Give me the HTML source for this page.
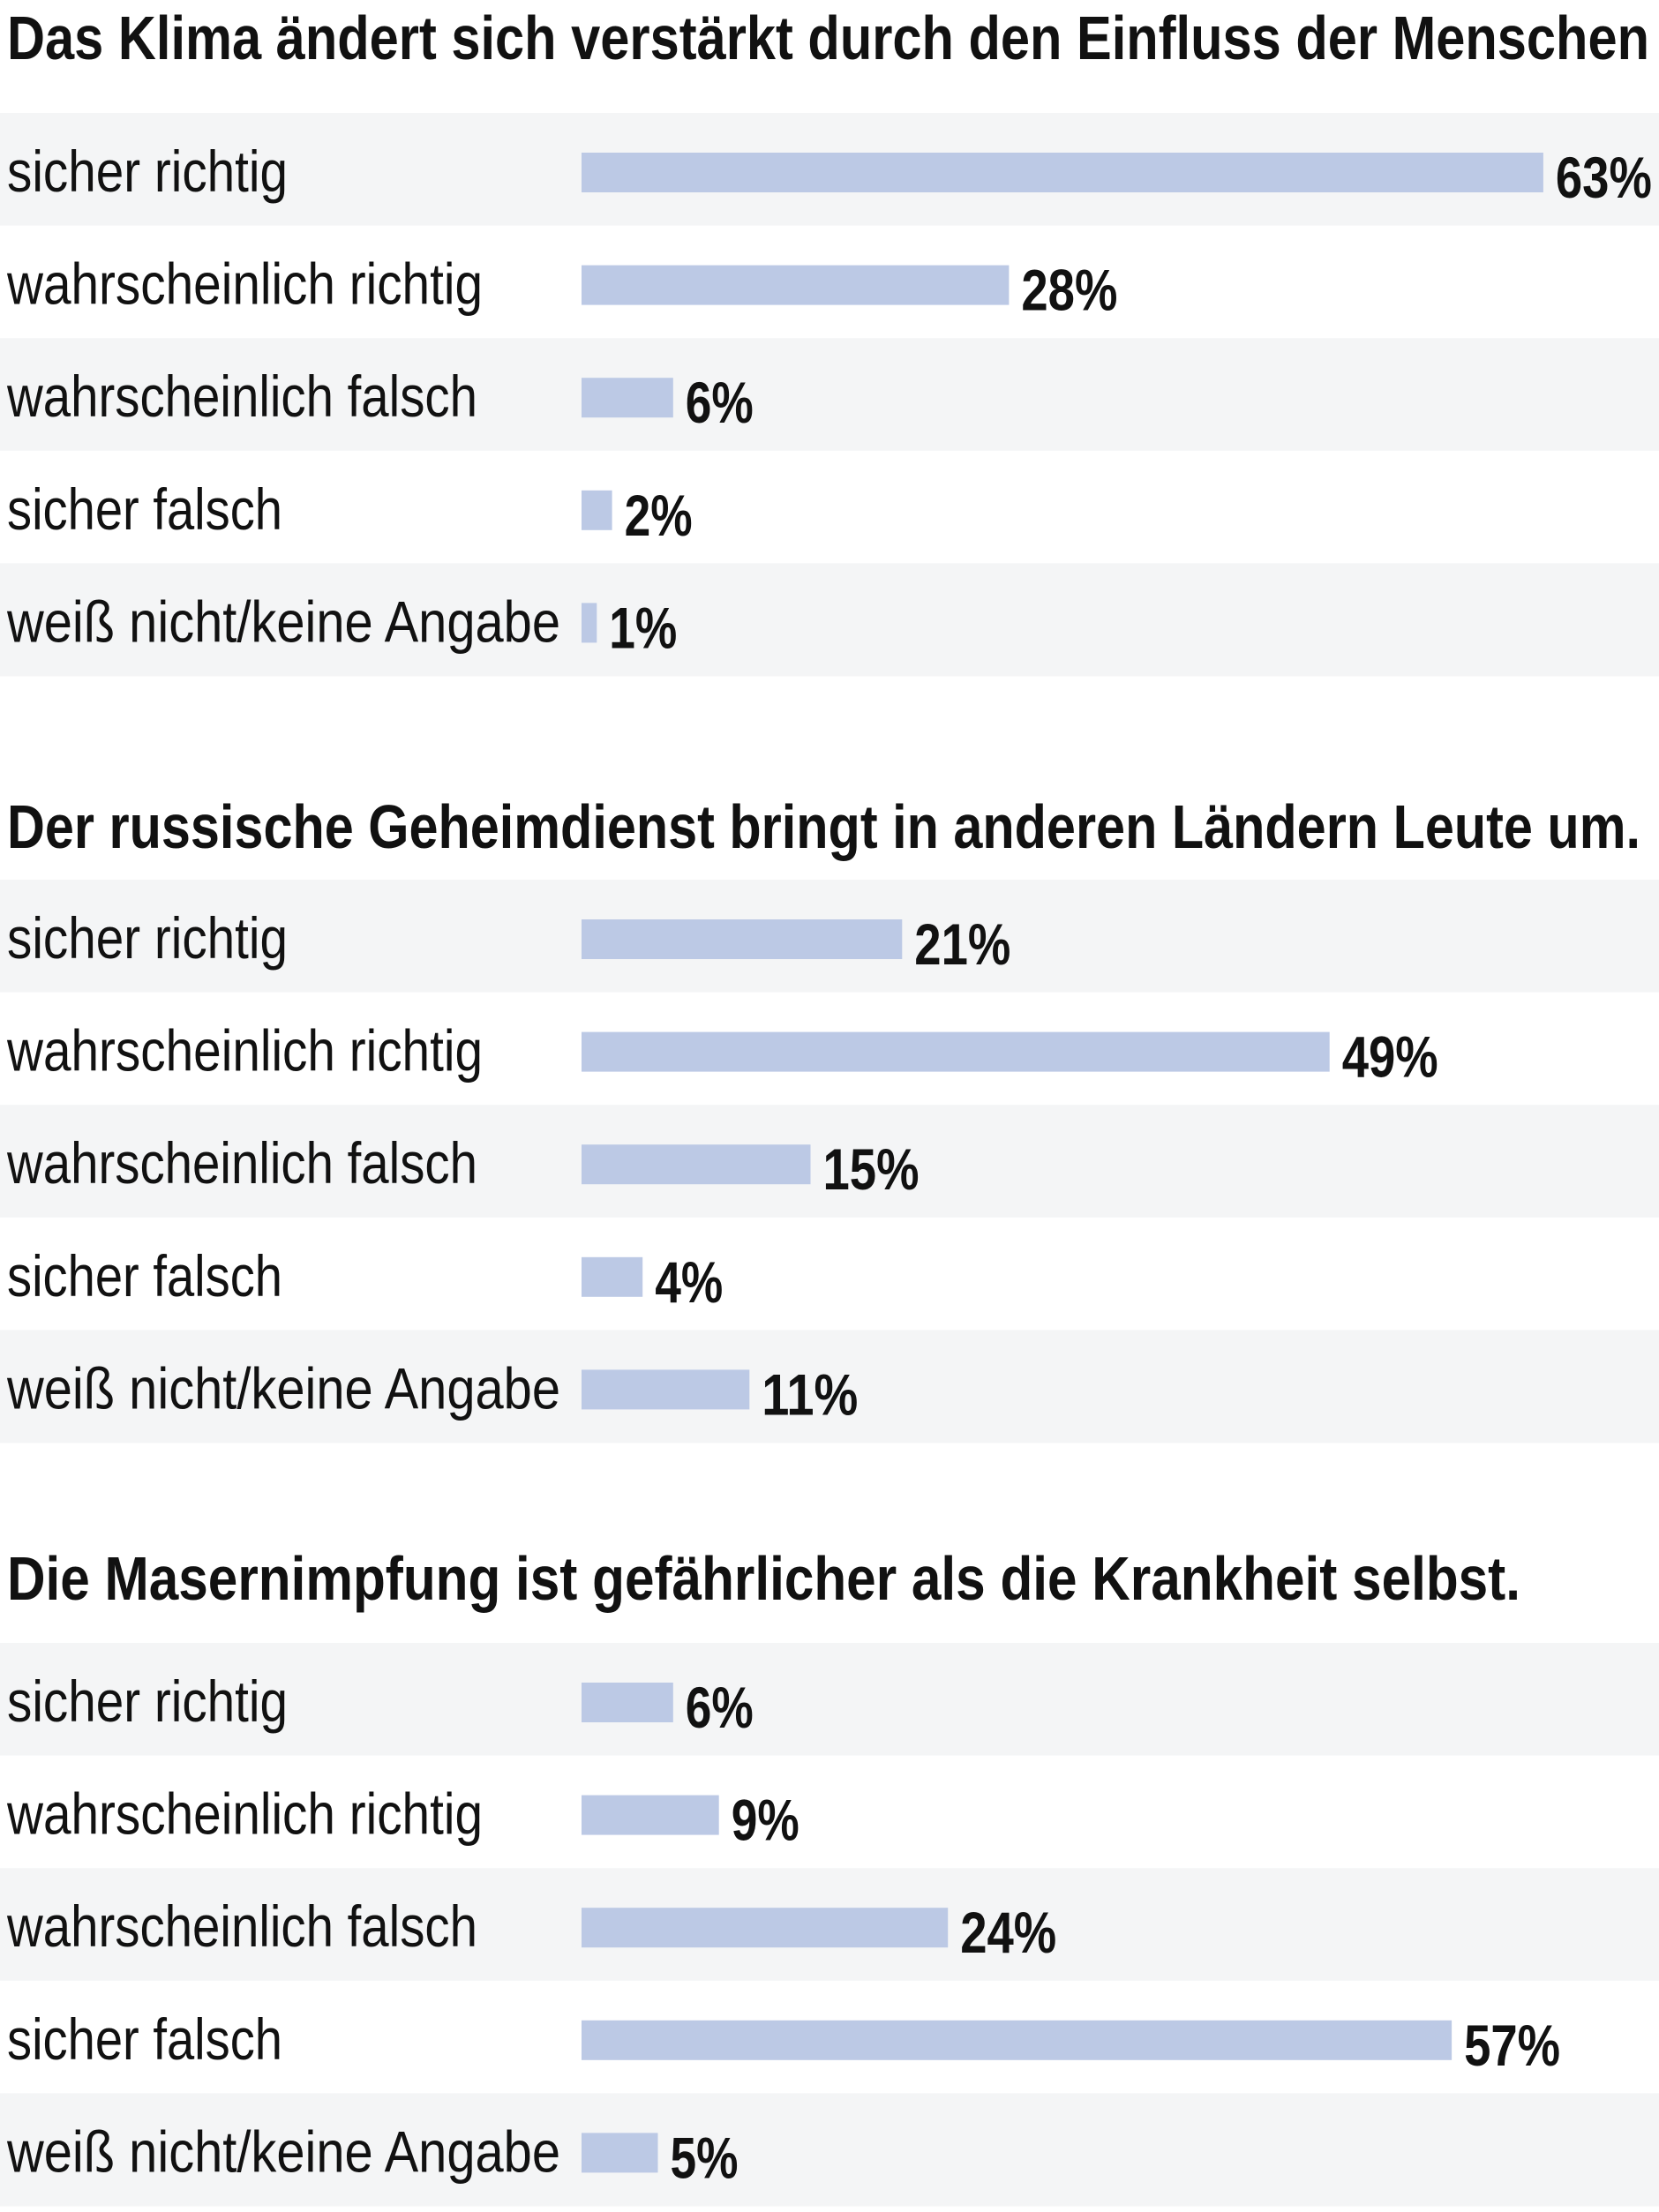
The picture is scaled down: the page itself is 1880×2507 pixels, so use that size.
<!DOCTYPE html>
<html><head><meta charset="utf-8">
<style>
html,body{margin:0;padding:0;background:#fff;width:1880px;height:2507px;overflow:hidden}
svg{display:block}
text{font-family:"Liberation Sans",sans-serif;fill:#111}
</style></head>
<body>
<svg id="chart" width="1880" height="2507" viewBox="0 0 1880 2507" xmlns="http://www.w3.org/2000/svg"></svg>
<script>
const categories = ["sicher richtig","wahrscheinlich richtig","wahrscheinlich falsch","sicher falsch","weiß nicht/keine Angabe"];
const titles = ["Das Klima ändert sich verstärkt durch den Einfluss der Menschen","Der russische Geheimdienst bringt in anderen Ländern Leute um.","Die Masernimpfung ist gefährlicher als die Krankheit selbst."];
const valuesKlima = [63,28,6,2,1];
const valuesGeheimdienst = [21,49,15,4,11];
const valuesMasern = [6,9,24,57,5];
const allValues = [valuesKlima, valuesGeheimdienst, valuesMasern];

const NS = "http://www.w3.org/2000/svg";
const svg = document.getElementById('chart');
const sectionTop = [128, 997, 1862];
const titleBaseline = [67, 961, 1813];
const titleWidths = [1861, 1851, 1715];
const labelWidths = [318, 539, 533, 312, 627];
const rowH = 127.6;
const barX0 = 659;
const pxPerPct = 17.3;
const x = v => barX0 + v * pxPerPct;

function mk(tag, attrs){ const e=document.createElementNS(NS,tag); for(const k in attrs) e.setAttribute(k, attrs[k]); return e; }

titles.forEach((t, s) => {
  const g = mk('g', {});
  
  
  svg.appendChild(g);
  const tt = mk('text', {x: 8, y: titleBaseline[s], 'font-size': 70, 'font-weight': 'bold', textLength: titleWidths[s], lengthAdjust: 'spacingAndGlyphs'});
  
  
  tt.textContent = t;
  g.appendChild(tt);
  categories.forEach((c, i) => {
    const top = sectionTop[s] + i * rowH;
    const v = allValues[s][i];
    const bg = mk('rect', {x: 0, y: top, width: 1880, height: rowH + 0.5, fill: i % 2 === 0 ? '#f4f5f6' : '#ffffff'});
    
    
    g.appendChild(bg);
    const lab = mk('text', {x: 8, y: top + 89, 'font-size': 66, textLength: labelWidths[i], lengthAdjust: 'spacingAndGlyphs'});
    
    
    lab.textContent = c;
    g.appendChild(lab);
    const bar = mk('rect', {x: barX0, y: top + 45, width: Math.max(x(v) - barX0, 0), height: 45, fill: '#bcc9e5'});
    
    
    g.appendChild(bar);
    const s2 = String(v) + '%';
    const val = mk('text', {x: x(v) + 14, y: top + 96, 'font-size': 66, 'font-weight': 'bold', textLength: 77 + 32 * (String(v).length - 1), lengthAdjust: 'spacingAndGlyphs'});
    
    
    val.textContent = s2;
    g.appendChild(val);
  });
});
</script>
</body></html>
